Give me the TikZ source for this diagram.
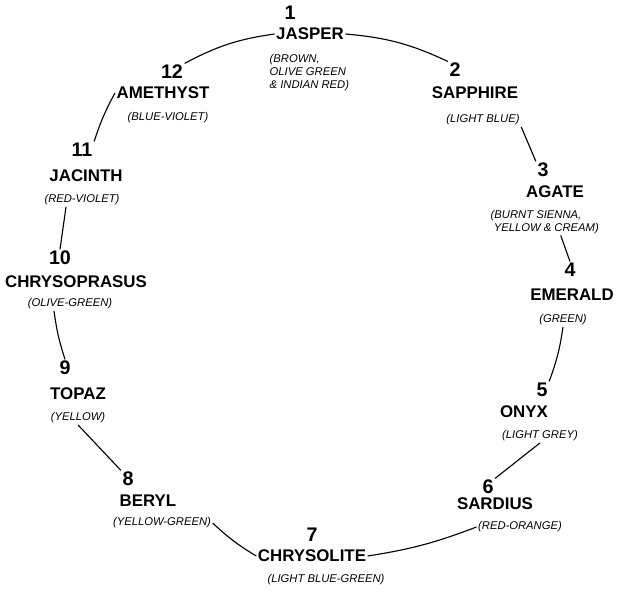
\documentclass[tikz,border=0pt]{standalone}
\usepackage{fontspec}
\setmainfont{Liberation Sans}

\begin{document}
\begin{tikzpicture}[x=0.25mm,y=-0.25mm,
  num/.style={font=\fontsize{14}{14}\selectfont\bfseries,inner sep=1pt},
  gem/.style={font=\fontsize{12}{12}\selectfont\bfseries,inner sep=1pt},
  hue/.style={font=\fontsize{8}{9}\selectfont\itshape,inner sep=1pt,align=center},
  rim/.style={line width=0.8pt}
]
  \useasboundingbox (0,0) rectangle (623,603);
  % stones, clockwise from the top
  \node[num] (n1) at (290,13)  {1};
  \node[gem] (g1) at (310,34)  {JASPER};
  \node[hue,align=left,anchor=north west] (c1) at (268,53) {(BROWN,\\OLIVE GREEN\\\& INDIAN RED)};
  \node[num] (n2) at (455,70)  {2};
  \node[gem] (g2) at (475,93)  {SAPPHIRE};
  \node[hue] (c2) at (483,120) {(LIGHT BLUE)};
  \node[num] (n3) at (543,170) {3};
  \node[gem] (g3) at (555,192) {AGATE};
  \node[hue,align=left,anchor=north west] (c3) at (489,209) {(BURNT SIENNA,\\\ YELLOW \& CREAM)};
  \node[num] (n4) at (570,270) {4};
  \node[gem] (g4) at (572,295) {EMERALD};
  \node[hue] (c4) at (563,320) {(GREEN)};
  \node[num] (n5) at (542,390) {5};
  \node[gem] (g5) at (524,412) {ONYX};
  \node[hue] (c5) at (540,436) {(LIGHT GREY)};
  \node[num] (n6) at (488,487) {6};
  \node[gem] (g6) at (495,504) {SARDIUS};
  \node[hue] (c6) at (520,527) {(RED-ORANGE)};
  \node[num] (n7) at (312,535) {7};
  \node[gem] (g7) at (312,556) {CHRYSOLITE};
  \node[hue] (c7) at (326,580) {(LIGHT BLUE-GREEN)};
  \node[num] (n8) at (128,479) {8};
  \node[gem] (g8) at (148,501) {BERYL};
  \node[hue] (c8) at (162,523) {(YELLOW-GREEN)};
  \node[num] (n9) at (65,368)  {9};
  \node[gem] (g9) at (78,394)  {TOPAZ};
  \node[hue] (c9) at (78,418)  {(YELLOW)};
  \node[num] (n10) at (60,258) {10};
  \node[gem] (g10) at (76,282) {CHRYSOPRASUS};
  \node[hue] (c10) at (70,304) {(OLIVE-GREEN)};
  \node[num] (n11) at (82,150) {11};
  \node[gem] (g11) at (86,176) {JACINTH};
  \node[hue] (c11) at (82,200) {(RED-VIOLET)};
  \node[num] (n12) at (172,72) {12};
  \node[gem] (g12) at (163,93) {AMETHYST};
  \node[hue] (c12) at (168,118) {(BLUE-VIOLET)};
  % the ring
  \draw[rim] (n12.north east) to[bend left=10] (g1.west);
  \draw[rim] (g1.east) to[bend left=10] (n2.north west);
  \draw[rim] (c2.south east) -- (n3.north west);
  \draw[rim] ([xshift=4mm]c3.south) -- (n4.north);
  \draw[rim] (c4.south) to[bend left=6] (n5.north east);
  \draw[rim] (c5.south) -- (n6.north east);
  \draw[rim] (c6.west) to[bend left=6] (g7.east);
  \draw[rim] (c8.east) to[bend right=6] (g7.west);
  \draw[rim] (c9.south) -- (n8.north west);
  \draw[rim] ([xshift=-4mm]c10.south) to[bend right=5] (n9.north);
  \draw[rim] ([xshift=-4mm]c11.south) -- (n10.north);
  \draw[rim] (n11.north east) to[bend left=5] (g12.west);
\end{tikzpicture}
\end{document}
